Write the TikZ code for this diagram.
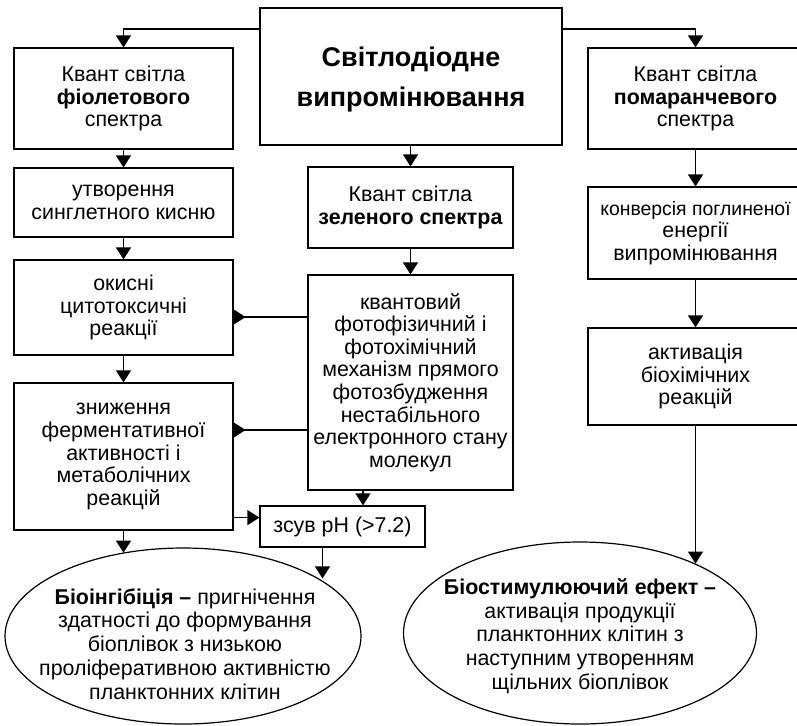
\documentclass[tikz,border=0pt]{standalone}
\usepackage{fontspec}
\setmainfont{Liberation Sans}
\usetikzlibrary{arrows.meta,shapes.geometric}
\begin{document}
\begin{tikzpicture}[x=0.5pt, y=-0.5pt, line width=0.6pt,
    font=\fontsize{10.7}{11.3}\selectfont,
    box/.style={draw, align=center, inner sep=0pt},
    ell/.style={draw, ellipse, inner sep=0pt},
    etxt/.style={align=center, font=\fontsize{10.7}{11.9}\selectfont},
    arr/.style={-{Triangle[length=6pt,width=7.5pt]}},
    rarr/.style={-{Triangle[length=6pt,width=7.5pt,reversed]}}]
\useasboundingbox (0,0) rectangle (797,725);
\clip (0,0) rectangle (797,725);
% centre
\node[box, minimum width=151pt, minimum height=68.5pt,
      font=\bfseries\fontsize{13.5}{20}\selectfont] (top) at (411,76.5) {\rule{0pt}{13pt}Світлодіодне\\випромінювання};
% left column
\node[box, minimum width=109.5pt, minimum height=50.5pt] (viol) at (123.5,98.5) {Квант світла\\\textbf{фіолетового}\\спектра};
\node[box, minimum width=109.5pt, minimum height=34.5pt] (singl) at (123.5,202.5) {утворення\\синглетного кисню};
\node[box, minimum width=109.5pt, minimum height=47.5pt] (oxid) at (123.5,307.5) {окисні\\цитотоксичні\\реакції};
\node[box, minimum width=109.5pt, minimum height=73.5pt] (ferm) at (123.5,456.5) {зниження\\ферментативної\\активності і\\метаболічних\\реакцій};
% middle column
\node[box, minimum width=102.5pt, minimum height=40.5pt] (green) at (410.5,207.5) {Квант світла\\\textbf{зеленого спектра}};
\node[box, minimum width=102.5pt, minimum height=107.5pt] (mech) at (410.5,382.5) {квантовий\\фотофізичний і\\фотохімічний\\механізм прямого\\фотозбудження\\нестабільного\\електронного стану\\молекул};
\node[box, minimum width=82.5pt, minimum height=20.5pt] (ph) at (342.5,526.5) {зсув pH (>7.2)};
% right column
\node[box, minimum width=107.5pt, minimum height=50.5pt] (orange) at (695.5,98.5) {Квант світла\\\textbf{помаранчевого}\\спектра};
\node[box, minimum width=107.5pt, minimum height=46pt] (conv) at (695.5,233) {\makebox[0pt]{\fontsize{9.7}{11.3}\selectfont конверсія поглиненої}\\енергії\\випромінювання};
\node[box, minimum width=107.5pt, minimum height=48.5pt] (activ) at (695.5,376.5) {активація\\біохімічних\\реакцій};
% effects
\node[ell, minimum width=178pt, minimum height=88pt] (inhib) at (183,636) {};
\node[etxt] (inhibtxt) at ([xshift=1pt,yshift=-4pt]inhib.center) {\textbf{Біоінгібіція –} пригнічення\\здатності до формування\\біоплівок з низькою\\проліферативною активністю\\планктонних клітин};
\node[ell, minimum width=176.5pt, minimum height=91pt] (stim) at (580,633) {};
\node[etxt] (stimtxt) at ([yshift=-1.5pt]stim.center) {\textbf{Біостимулюючий ефект –}\\активація продукції\\планктонних клітин з\\наступним утворенням\\щільних біоплівок};
% arrows
\draw[arr] ([yshift=23.75pt]top.west) -| (viol.north);
\draw[arr] ([yshift=23.75pt]top.east) -| (orange.north);
\draw[arr] (viol.south) -- (singl.north);
\draw[arr] (singl.south) -- (oxid.north);
\draw[arr] (oxid.south) -- (ferm.north);
\draw[arr] (top.south -| green.north) -- (green.north);
\draw[arr] (green.south) -- (mech.north);
\coordinate (o1) at ([yshift=-4.75pt]oxid.east);
\coordinate (f1) at ([yshift=13.25pt]ferm.east);
\draw[rarr] (mech.west |- o1) -- (o1);
\draw[rarr] (mech.west |- f1) -- (f1);
\coordinate (f2) at ([yshift=6.5pt]ferm.south east);
\draw[arr] (f2) -- (ph.west |- f2);
\coordinate (p1) at ([xshift=10.25pt]ph.north);
\draw[arr] (mech.south -| p1) -- (p1);
\coordinate (p2) at ([xshift=-10pt]ph.south);
\draw[arr] (p2) -- (p2 |- inhib.23);
\draw[arr] (ferm.south) -- (ferm.south |- inhib.126);
\draw[arr] (orange.south) -- (conv.north);
\draw[arr] (conv.south) -- (activ.north);
\draw[arr] (activ.south) -- (activ.south |- stim.31);
\end{tikzpicture}
\end{document}
